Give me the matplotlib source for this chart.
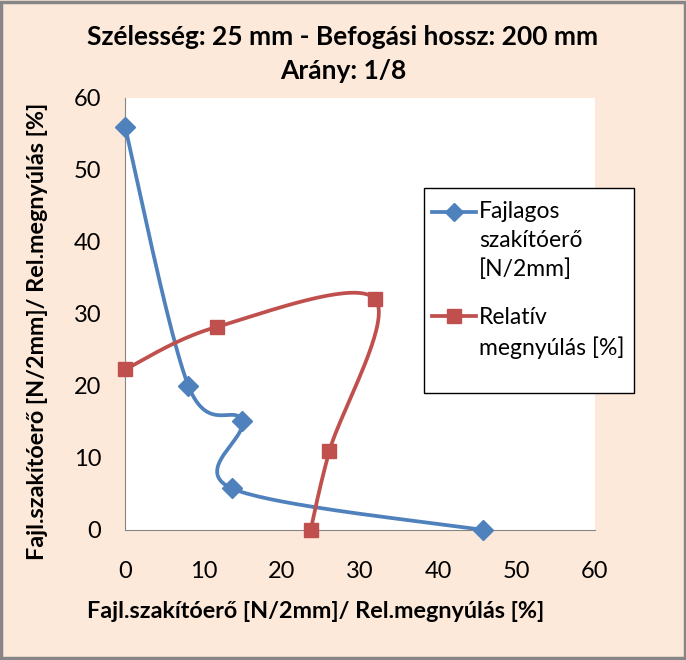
import numpy as np
import matplotlib
matplotlib.use('Agg')
import matplotlib.pyplot as plt
from matplotlib.patches import Rectangle
from matplotlib.lines import Line2D

plt.rcParams['font.family'] = ['Lato', 'DejaVu Sans']

# adatok
fajl_x = [0, 8.1, 14.9, 13.6, 45.7]
fajl_y = [56, 20, 15.2, 5.8, 0]
rel_x = [0, 11.7, 31.9, 26.1, 23.7]
rel_y = [22.3, 28.2, 32.1, 11, 0]
labels = ['Fajlagos\nszakítóerő\n[N/2mm]', 'Relatív\nmegnyúlás [%]']
ticks = [0, 10, 20, 30, 40, 50, 60]

kek = '#4F81BD'
piros = '#C0504D'
W, H = 686, 660


def smooth(xs, ys, n=40):
    # Excel-szeru simitott vonal (Catmull-Rom / Bezier)
    p = np.column_stack([xs, ys]).astype(float)
    pts = np.vstack([p[0], p, p[-1]])
    out = []
    t = np.linspace(0, 1, n)[:, None]
    for i in range(1, len(pts) - 2):
        p0, p1, p2, p3 = pts[i - 1], pts[i], pts[i + 1], pts[i + 2]
        c1 = p1 + (p2 - p0) / 6
        c2 = p2 - (p3 - p1) / 6
        seg = ((1 - t) ** 3) * p1 + 3 * ((1 - t) ** 2) * t * c1 + 3 * (1 - t) * t ** 2 * c2 + t ** 3 * p2
        out.append(seg)
    s = np.vstack(out)
    return s[:, 0], s[:, 1]


fig = plt.figure(figsize=(W / 100, H / 100), dpi=100)
fig.patch.set_facecolor('#FDE9D9')
fig.patches.append(Rectangle((0.002, 0.003), 0.996, 0.994, transform=fig.transFigure,
                             fill=False, edgecolor='#868686', linewidth=2.5))

ax = fig.add_axes([125 / W, 130 / H, 470 / W, 432 / H])
ax.set_facecolor('white')

sx, sy = smooth(fajl_x, fajl_y)
ax.plot(sx, sy, color=kek, lw=2.7, solid_capstyle='round', clip_on=False)
ax.plot(fajl_x, fajl_y, 'D', color=kek, ms=10, clip_on=False, zorder=5)
sx, sy = smooth(rel_x, rel_y)
ax.plot(sx, sy, color=piros, lw=2.7, solid_capstyle='round', clip_on=False)
ax.plot(rel_x, rel_y, 's', color=piros, ms=10.5, clip_on=False, zorder=5)

ax.set_xlim(0, 60)
ax.set_ylim(0, 60)
ax.set_xticks(ticks)
ax.set_yticks(ticks)
ax.tick_params(length=0, labelsize=17)
ax.tick_params(axis='x', pad=22)
ax.tick_params(axis='y', pad=17)
for s in ['top', 'right']:
    ax.spines[s].set_visible(False)
for s in ['left', 'bottom']:
    ax.spines[s].set_color('#868686')
    ax.spines[s].set_linewidth(0.8)

cim = 'Fajl.szakítóerő [N/2mm]/ Rel.megnyúlás [%]'
fig.text(316 / W, 1 - 612 / H, cim, ha='center', va='center', fontsize=16.8, fontweight='bold')
fig.text(38 / W, 1 - 331 / H, cim, ha='center', va='center', rotation=90, fontsize=16.8, fontweight='bold')
fig.text(0.5, 1 - 37 / H, 'Szélesség: 25 mm - Befogási hossz: 200 mm', ha='center', va='center',
         fontsize=19, fontweight='bold')
fig.text(0.5, 1 - 71 / H, 'Arány: 1/8', ha='center', va='center', fontsize=19, fontweight='bold')

# jelmagyarazat
fig.patches.append(Rectangle((424 / W, 1 - 393 / H), 210 / W, 205 / H, transform=fig.transFigure,
                             facecolor='white', edgecolor='black', linewidth=1, zorder=3))
leg_y = [212, 316]
leg_top = [201, 307]
for lab, y, ty, c, m, ms in zip(labels, leg_y, leg_top, [kek, piros], ['D', 's'], [9, 10]):
    fig.lines.append(Line2D([432 / W, 476 / W], [1 - y / H] * 2, transform=fig.transFigure,
                            color=c, lw=2.7, zorder=4))
    fig.lines.append(Line2D([454 / W], [1 - y / H], transform=fig.transFigure, color=c,
                            marker=m, ms=ms, zorder=5))
    fig.text(479 / W, 1 - ty / H, lab, ha='left', va='top', fontsize=16.5,
             linespacing=1.45, zorder=5)

fig.savefig('out.png', dpi=100, facecolor=fig.get_facecolor())
